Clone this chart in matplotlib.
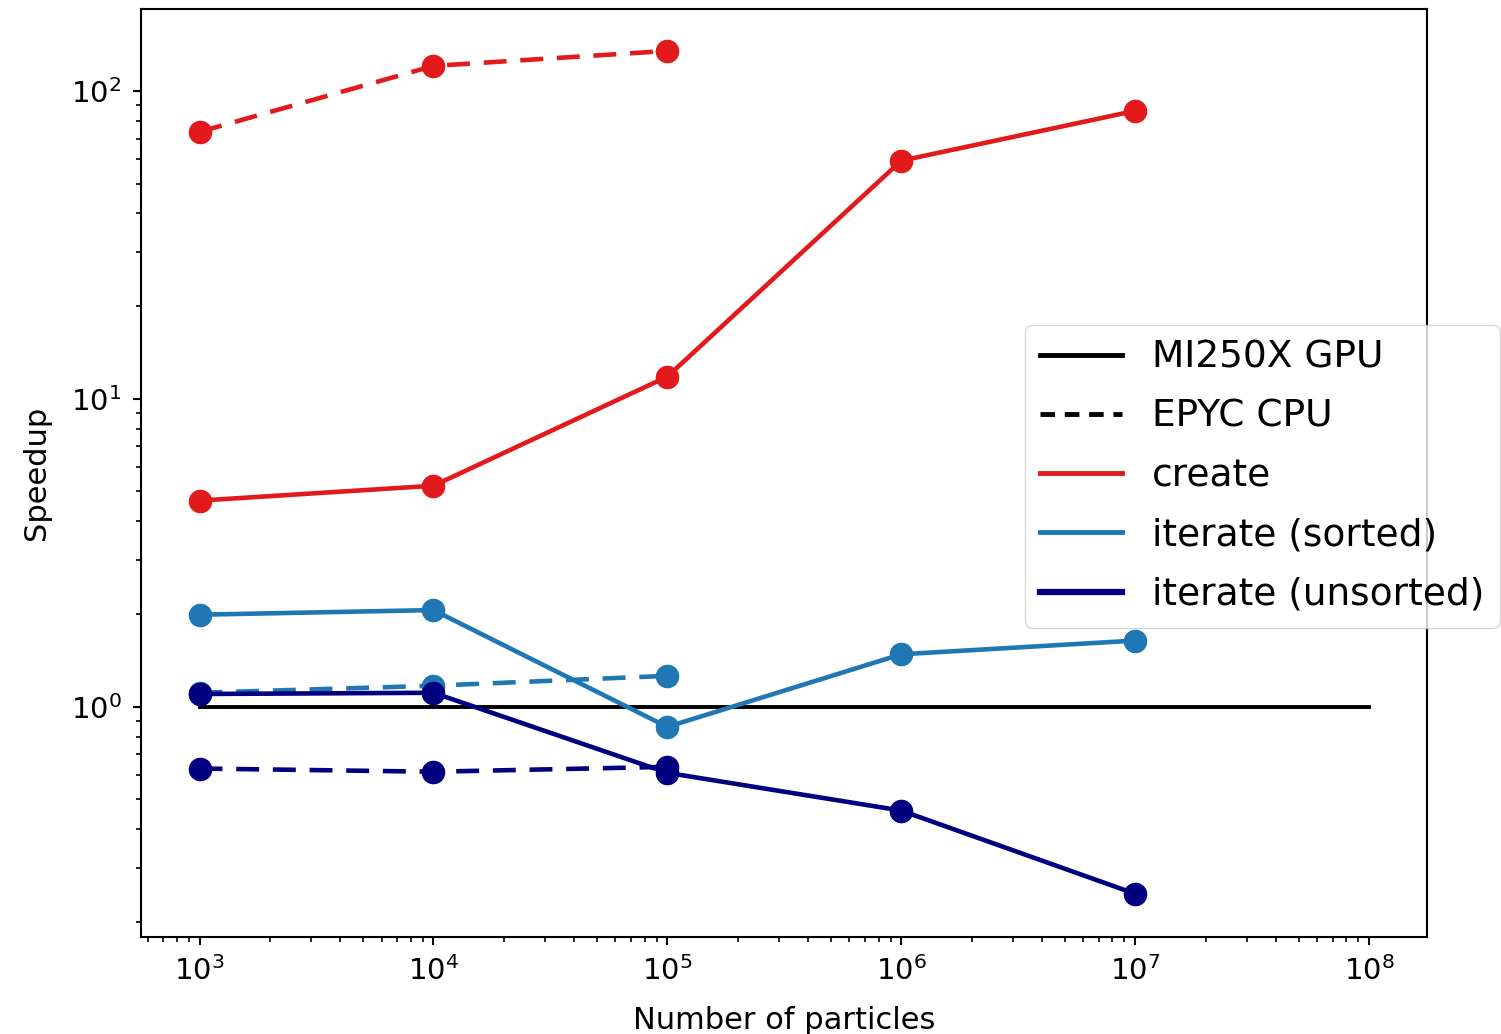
import matplotlib
matplotlib.use('Agg')
import matplotlib.pyplot as plt
from matplotlib.lines import Line2D

# particle counts
n_gpu = [1e3, 1e4, 1e5, 1e6, 1e7]
n_cpu = [1e3, 1e4, 1e5]

# speedups
create_gpu = [4.67, 5.22, 11.8, 59.3, 86.1]
create_cpu = [73.6, 120.5, 134.8]
sorted_gpu = [1.99, 2.06, 0.86, 1.48, 1.64]
sorted_cpu = [1.11, 1.17, 1.26]
unsorted_gpu = [1.10, 1.11, 0.61, 0.46, 0.247]
unsorted_cpu = [0.63, 0.615, 0.638]

baseline_x = [1e3, 1e8]
baseline_y = [1, 1]

red = '#e31a1c'
blue = '#1f78b4'
navy = '#000080'

fig, ax = plt.subplots(figsize=(15.01, 10.34), dpi=100)
fig.subplots_adjust(left=0.094, right=0.951, top=0.991, bottom=0.094)

ax.plot(baseline_x, baseline_y, color='black', lw=2.8)
ax.plot(n_gpu, create_gpu, 'o-', color=red, lw=3.3, ms=16)
ax.plot(n_cpu, create_cpu, 'o--', color=red, lw=3.3, ms=16, dashes=(5, 3))
ax.plot(n_gpu, sorted_gpu, 'o-', color=blue, lw=3.3, ms=16)
ax.plot(n_cpu, sorted_cpu, 'o--', color=blue, lw=3.3, ms=16, dashes=(5, 3))
ax.plot(n_gpu, unsorted_gpu, 'o-', color=navy, lw=3.3, ms=16)
ax.plot(n_cpu, unsorted_cpu, 'o--', color=navy, lw=3.3, ms=16, dashes=(5, 3))

ax.set_xscale('log')
ax.set_yscale('log')
ax.set_ylim(0.179, 184)
ax.set_xlabel('Number of particles', fontsize=22, labelpad=14)
ax.set_ylabel('Speedup', fontsize=22, labelpad=14)
ax.tick_params(labelsize=21, width=1.5, length=6, pad=8)
ax.tick_params(which='minor', width=1.2, length=3.5)
for s in ax.spines.values():
    s.set_linewidth(1.5)

handles = [
    Line2D([], [], color='black', lw=3.5),
    Line2D([], [], color='black', lw=3.5, ls='--', dashes=(3, 2)),
    Line2D([], [], color=red, lw=3.5),
    Line2D([], [], color=blue, lw=3.5),
    Line2D([], [], color=navy, lw=4.5),
]
labels = ['MI250X GPU', 'EPYC CPU', 'create', 'iterate (sorted)', 'iterate (unsorted)']
ax.legend(handles, labels, loc='upper left', bbox_to_anchor=(0.687, 0.66),
          fontsize=27, handlelength=2.2, borderaxespad=0, labelspacing=0.62)

fig.savefig('out.png')
